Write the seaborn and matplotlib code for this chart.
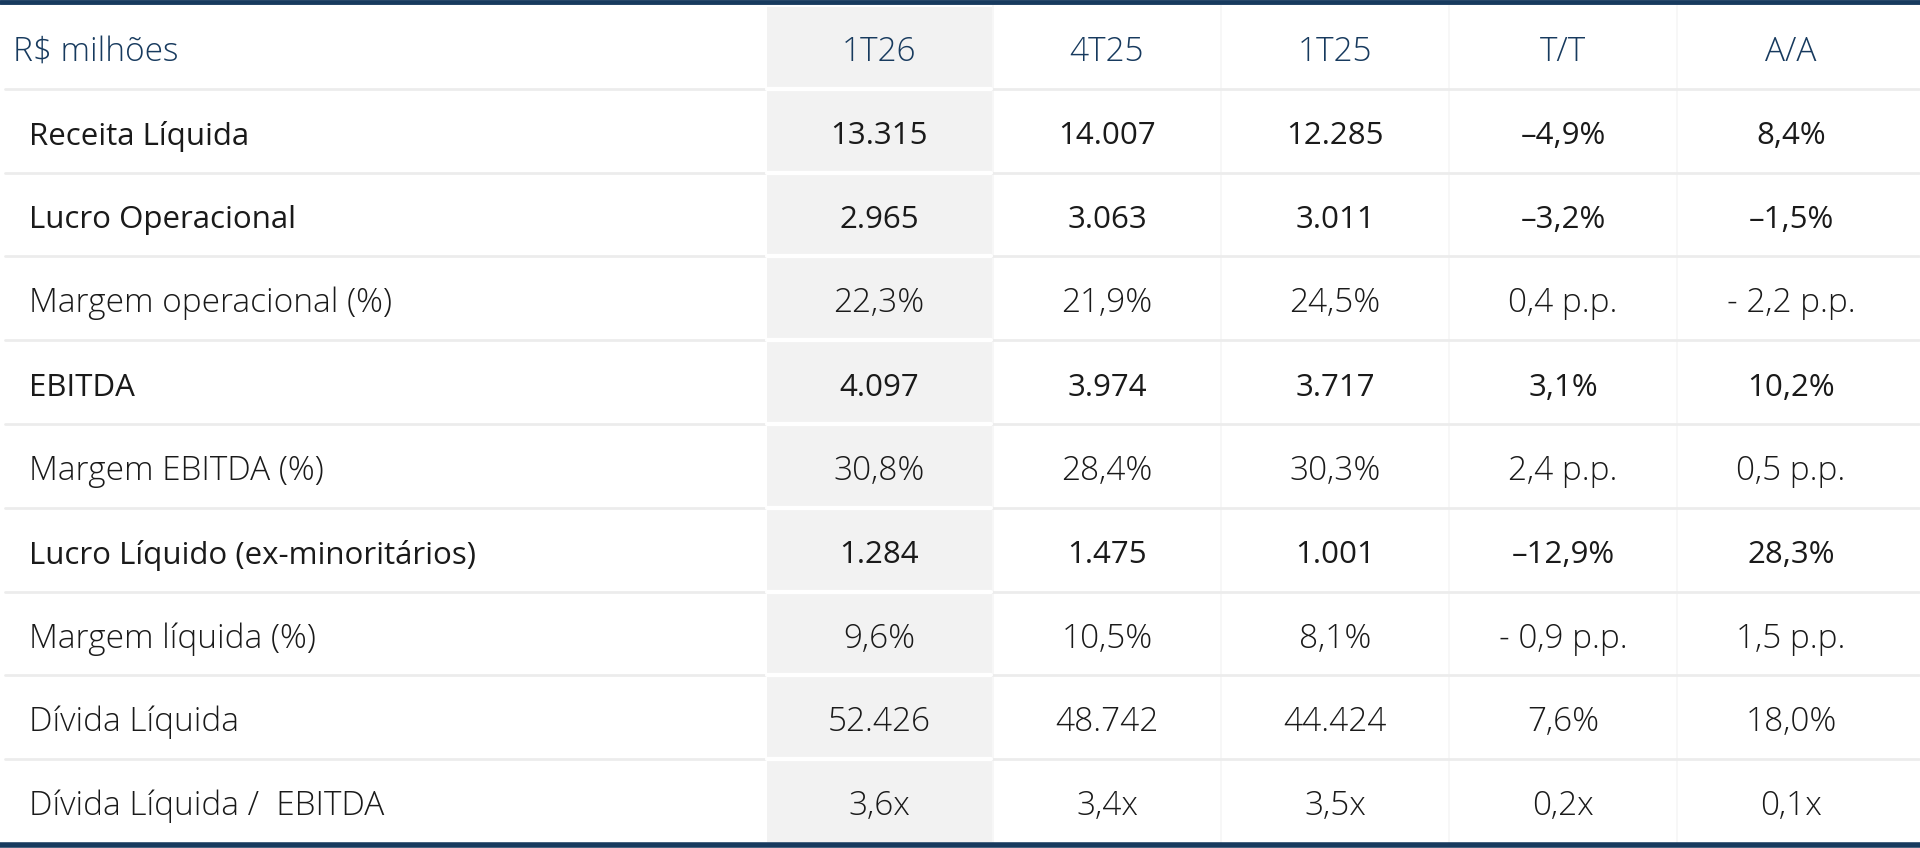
import numpy as np
import pandas as pd
import seaborn as sns
import matplotlib.pyplot as plt
from matplotlib import transforms
from matplotlib.colors import ListedColormap

#  Dados da tabela
cabecalho = "R$ milhões"
colunas = ["1T26", "4T25", "1T25", "T/T", "A/A"]
linhas = ["Receita Líquida", "Lucro Operacional", "Margem operacional (%)", "EBITDA",
          "Margem EBITDA (%)", "Lucro Líquido (ex-minoritários)", "Margem líquida (%)",
          "Dívida Líquida", "Dívida Líquida /  EBITDA"]
destaque = [True, True, False, True, False, True, False, False, False]

v_1t26 = ["13.315", "2.965", "22,3%", "4.097", "30,8%", "1.284", "9,6%", "52.426", "3,6x"]
v_4t25 = ["14.007", "3.063", "21,9%", "3.974", "28,4%", "1.475", "10,5%", "48.742", "3,4x"]
v_1t25 = ["12.285", "3.011", "24,5%", "3.717", "30,3%", "1.001", "8,1%", "44.424", "3,5x"]
v_tt = ["–4,9%", "–3,2%", "0,4 p.p.", "3,1%", "2,4 p.p.", "–12,9%", "- 0,9 p.p.", "7,6%", "0,2x"]
v_aa = ["8,4%", "–1,5%", "- 2,2 p.p.", "10,2%", "0,5 p.p.", "28,3%", "1,5 p.p.", "18,0%", "0,1x"]

valores = pd.DataFrame({"1T26": v_1t26, "4T25": v_4t25, "1T25": v_1t25, "T/T": v_tt, "A/A": v_aa})

#  Estilo
sns.set_theme(style="white")
plt.rcParams['font.family'] = ['Open Sans', 'DejaVu Sans']
azul = "#173a5e"
texto = "#1a1a1a"
fs_leve = 24     # linhas comuns
fs_forte = 22.5  # linhas em destaque
fs_cab = 24
dy = 0.065       # texto um pouco abaixo do centro da célula

W, H = 1920, 848
fig = plt.figure(figsize=(W / 100, H / 100), dpi=100)
fig.patch.set_facecolor("white")

#  Grade das colunas de valores (cabeçalho + 9 linhas)
x0, x1 = 765, 1905
y_top, y_bot = 5, 843
ax = fig.add_axes([x0 / W, (H - y_bot) / H, (x1 - x0) / W, (y_bot - y_top) / H])
fundo = np.zeros((len(linhas) + 1, len(colunas)))
fundo[:, 0] = 1
sns.heatmap(fundo, ax=ax, cmap=ListedColormap(["white", "#f2f2f2"]), cbar=False,
            linewidths=2, linecolor="white", xticklabels=False, yticklabels=False)
ax.set_xlim(0, len(colunas))

tr = transforms.blended_transform_factory(fig.transFigure, ax.transData)

#  Separadores
for i in range(1, len(linhas) + 1):
    ax.plot([-x0 / ((x1 - x0) / len(colunas)) + 0.02, len(colunas) + 0.06], [i, i],
            color="#ececec", lw=2, clip_on=False, zorder=3)
    ax.plot([0.01, 0.99], [i, i], color="white", lw=3, clip_on=False, zorder=4)
for j in range(1, len(colunas)):
    ax.plot([j, j], [0, len(linhas) + 1], color="#f6f6f6", lw=1.2, zorder=2)

#  Bordas superior e inferior
fig.add_artist(plt.Line2D([0, 1], [1 - 2 / H, 1 - 2 / H], color=azul, lw=3.5))
fig.add_artist(plt.Line2D([0, 1], [3 / H, 3 / H], color=azul, lw=4))

#  Cabeçalho
ax.text(13 / W, 0.5 + dy, cabecalho, transform=tr, ha="left", va="center",
        fontsize=fs_cab, color=azul, fontweight="light")
for j, c in enumerate(colunas):
    ax.text(j + 0.5, 0.5 + dy, c, ha="center", va="center", fontsize=fs_cab,
            color=azul, fontweight="light")

#  Linhas
for i, nome in enumerate(linhas):
    peso = "medium" if destaque[i] else "light"
    fs = fs_forte if destaque[i] else fs_leve
    ax.text(29 / W, i + 1.5 + dy, nome, transform=tr, ha="left", va="center",
            fontsize=fs, color=texto, fontweight=peso)
    for j, c in enumerate(colunas):
        ax.text(j + 0.5, i + 1.5 + dy, valores[c][i], ha="center", va="center",
                fontsize=fs, color=texto, fontweight=peso)

fig.savefig("out.png", dpi=100, facecolor="white")
